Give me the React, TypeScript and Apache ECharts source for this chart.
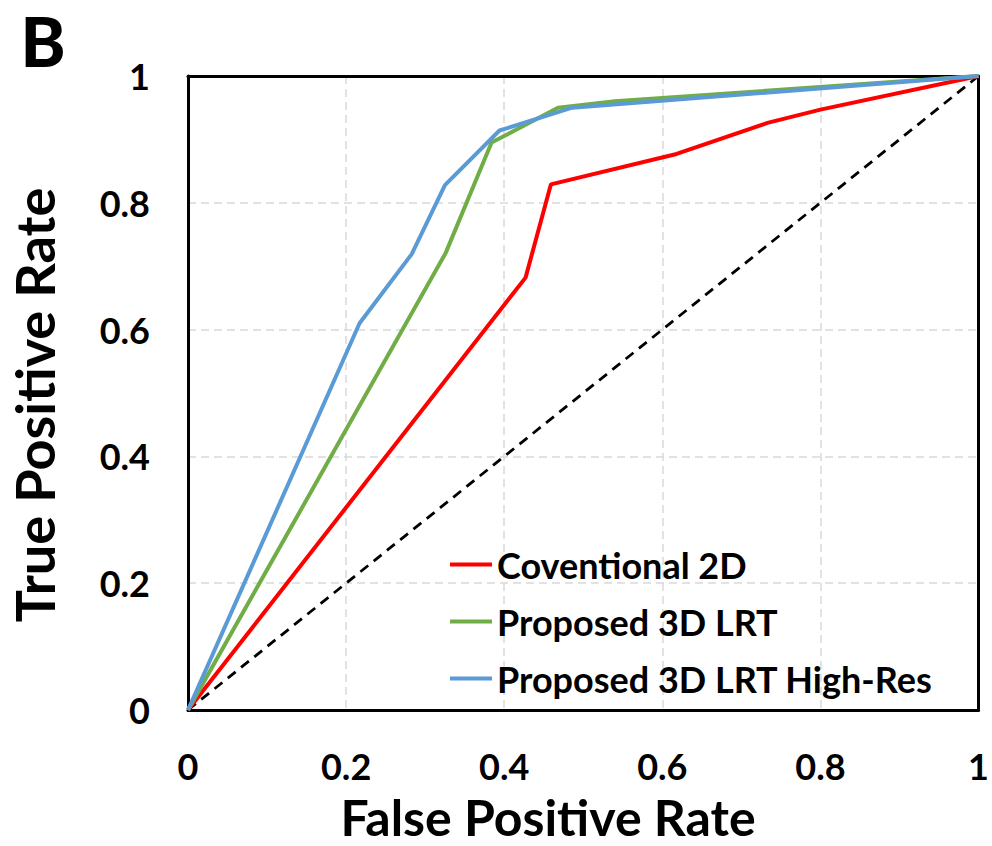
import React, { useEffect, useRef } from "react";
import * as echarts from "echarts";

const conventionalX = [0, 0.427, 0.459, 0.618, 0.733, 0.8, 1];
const conventionalY = [0, 0.682, 0.829, 0.877, 0.926, 0.947, 1];
const proposedX = [0, 0.326, 0.384, 0.468, 0.54, 1];
const proposedY = [0, 0.721, 0.895, 0.95, 0.96, 1];
const highResX = [0, 0.217, 0.283, 0.325, 0.394, 0.486, 1];
const highResY = [0, 0.61, 0.719, 0.828, 0.914, 0.95, 1];
const chanceX = [0, 1];
const chanceY = [0, 1];
const seriesNames = ["Coventional 2D", "Proposed 3D LRT", "Proposed 3D LRT High-Res"];
const panelLabel = "B";
const xTitle = "False Positive Rate";
const yTitle = "True Positive Rate";

const FONT = "Lato";
const zip = (xs: number[], ys: number[]) => xs.map((x, i) => [x, ys[i]]);

export default function App() {
  const ref = useRef<HTMLDivElement>(null);
  useEffect(() => {
    if (!ref.current) return;
    const chart = echarts.init(ref.current, null, { renderer: "svg" });
    const axisLabel = { fontFamily: FONT, fontWeight: "bold" as const, fontSize: 36, color: "#000" };
    const frameLine = { show: true, onZero: false, lineStyle: { color: "#000", width: 3 } };
    const split = {
      show: true,
      showMinLine: false,
      showMaxLine: false,
      lineStyle: { color: "#d9d9d9", width: 1.5, type: [8, 5] as any },
    };
    chart.setOption({
      animation: false,
      backgroundColor: "#fff",
      grid: { left: 188, top: 76, right: 10, bottom: 136, containLabel: false },
      xAxis: [
        {
          type: "value",
          min: 0,
          max: 1,
          interval: 0.2,
          position: "bottom",
          axisLine: frameLine,
          axisTick: { show: false },
          axisLabel: { ...axisLabel, margin: 38 },
          splitLine: split,
        },
        {
          type: "value",
          min: 0,
          max: 1,
          interval: 0.2,
          position: "top",
          axisLine: frameLine,
          axisTick: { show: false },
          axisLabel: { show: false },
          splitLine: { show: false },
        },
      ],
      yAxis: [
        {
          type: "value",
          min: 0,
          max: 1,
          interval: 0.2,
          position: "left",
          axisLine: frameLine,
          axisTick: { show: false },
          axisLabel: { ...axisLabel, margin: 38 },
          splitLine: split,
        },
        {
          type: "value",
          min: 0,
          max: 1,
          interval: 0.2,
          position: "right",
          axisLine: frameLine,
          axisTick: { show: false },
          axisLabel: { show: false },
          splitLine: { show: false },
        },
      ],
      legend: {
        data: seriesNames,
        orient: "vertical",
        left: 445,
        top: 541,
        icon: "rect",
        itemWidth: 42,
        itemHeight: 4,
        itemGap: 20,
        textStyle: { fontFamily: FONT, fontWeight: "bold", fontSize: 36, color: "#000", lineHeight: 37 },
      },
      graphic: [
        {
          type: "text",
          x: 43,
          y: 40,
          style: {
            text: panelLabel,
            fontFamily: FONT,
            fontWeight: 900,
            fontSize: 68,
            fill: "#000",
            align: "center",
            verticalAlign: "middle",
          },
        },
        {
          type: "text",
          x: 548,
          y: 817,
          style: {
            text: xTitle,
            fontFamily: FONT,
            fontWeight: "bold",
            fontSize: 50,
            fill: "#000",
            align: "center",
            verticalAlign: "middle",
          },
        },
        {
          type: "text",
          x: 34,
          y: 405,
          rotation: Math.PI / 2,
          style: {
            text: yTitle,
            fontFamily: FONT,
            fontWeight: "bold",
            fontSize: 54,
            fill: "#000",
            align: "center",
            verticalAlign: "middle",
          },
        },
      ],
      series: [
        {
          name: "chance",
          type: "line",
          data: zip(chanceX, chanceY),
          showSymbol: false,
          lineStyle: { color: "#000", width: 2.8, type: [10, 7] as any },
          silent: true,
          z: 2,
        },
        {
          name: seriesNames[0],
          type: "line",
          data: zip(conventionalX, conventionalY),
          showSymbol: false,
          color: "#ff0000",
          lineStyle: { color: "#ff0000", width: 4 },
          z: 3,
        },
        {
          name: seriesNames[1],
          type: "line",
          data: zip(proposedX, proposedY),
          showSymbol: false,
          color: "#70ad47",
          lineStyle: { color: "#70ad47", width: 4 },
          z: 4,
        },
        {
          name: seriesNames[2],
          type: "line",
          data: zip(highResX, highResY),
          showSymbol: false,
          color: "#5b9bd5",
          lineStyle: { color: "#5b9bd5", width: 4 },
          z: 5,
        },
      ],
    });
    return () => chart.dispose();
  }, []);
  return (
    <div
      ref={ref}
      style={{ position: "absolute", left: 0, top: 0, width: 992, height: 846 }}
    />
  );
}
